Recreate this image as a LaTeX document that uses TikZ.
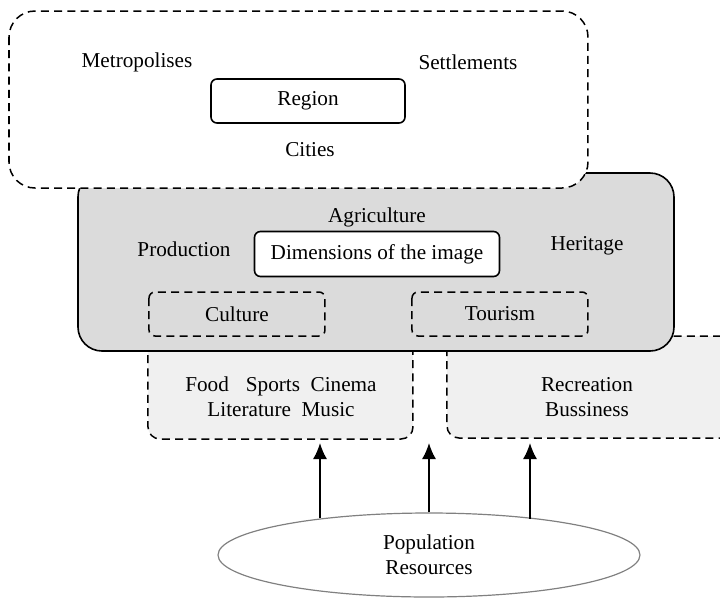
\documentclass[tikz,border=0pt]{standalone}
\usepackage{fontspec}
\setmainfont{Liberation Serif}
\usetikzlibrary{positioning, arrows.meta, shapes.geometric}
\tikzset{
    dashbox/.style={
        draw=black,
        dash pattern=on 4pt off 2.6pt, % 虚线
        line width=0.75pt
    },
    solidbox/.style={
        draw=black,
        fill=white,
        line width=0.8pt,
        rounded corners=3pt,
        inner sep=0
    },
    label/.style={
        inner sep=0,
        align=center
    },
    uparrow/.style={
        -{Latex[length=8pt,width=7pt]},
        line width=0.85pt
    }
}

\begin{document}
\begin{tikzpicture}[
                x=0.5pt, y=-0.5pt,
                every node/.style={
                    font=\fontsize{10.6}{12.6}\selectfont
                }
            ]
            \useasboundingbox (0,0) rectangle (720,602);
            % 下方两个虚线框
            \draw[dashbox, fill=black!6, rounded corners=6pt] (148,330) rectangle (413,439);
            \draw[dashbox, fill=black!6, rounded corners=6pt] (447,336) rectangle (760,438);
            % 灰色主框
            \draw[line width=0.8pt, fill=black!14, rounded corners=12pt] (78,173) rectangle (674,351);
            % 上方白色虚线框
            \draw[dashbox, fill=white, rounded corners=13pt] (9,11) rectangle (588,188);
            % 灰色框内的虚线框
            \draw[dashbox, rounded corners=3pt] (149,292) rectangle (325,336);
            \draw[dashbox, rounded corners=3pt] (412,292) rectangle (588,336);

            \node[solidbox, minimum width=97pt, minimum height=22pt] (region) at (308,101) {Region};
            \node[label] (metro) at (137,62) {Metropolises};
            \node[label] (settle) at (468,62) {Settlements};
            \node[label] (cities) at (310,150) {Cities};

            \node[solidbox, minimum width=122.5pt, minimum height=22.5pt] (dims) at (377,254) {Dimensions of the image};
            \node[label] (agri) at (377,217) {Agriculture};
            \node[label] (prod) at (184,249) {Production};
            \node[label] (herit) at (587,246) {Heritage};
            \node[label] (culture) at (237,314) {Culture};
            \node[label] (tourism) at (500,314) {Tourism};

            \node[label] (food) at (281,397) {Food\hspace{0.8em}Sports\hspace{0.5em}Cinema\\Literature\hspace{0.5em}Music};
            \node[label] (recr) at (587,397) {Recreation\\Bussiness};

            % 底部椭圆
            \node[ellipse, draw=black!50, line width=0.6pt, minimum width=211pt, minimum height=42pt, inner sep=0, align=center] (pop) at (429,555) {Population\\Resources};

            \coordinate (t1) at (320,443);
            \coordinate (t2) at (429,443);
            \coordinate (t3) at (530,443);
            \foreach \a/\t in {161.7/t1, 90/t2, 18.3/t3}
                \draw[uparrow] (\t |- pop.\a) -- (\t);
            \end{tikzpicture}
\end{document}
